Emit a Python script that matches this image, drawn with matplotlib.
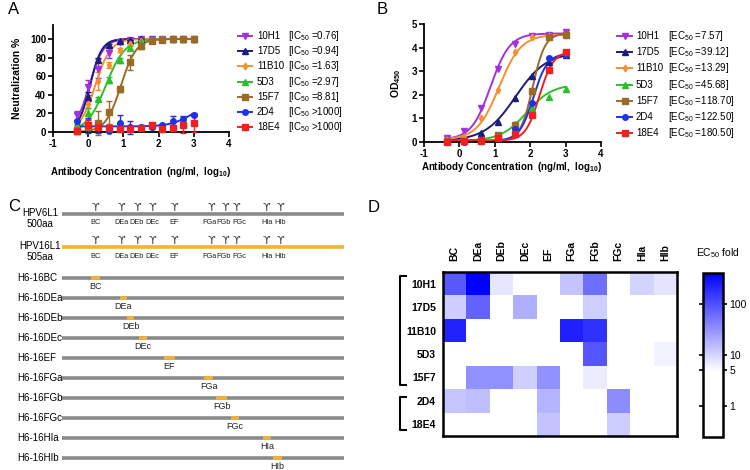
import numpy as np
import matplotlib
matplotlib.use('Agg')
import matplotlib.pyplot as plt
from matplotlib.colors import LinearSegmentedColormap, LogNorm
from matplotlib.lines import Line2D
from matplotlib.ticker import NullLocator, FixedLocator

plt.rcParams['font.family'] = ['Liberation Sans', 'DejaVu Sans']
plt.rcParams['mathtext.fontset'] = 'custom'
plt.rcParams['mathtext.rm'] = 'Liberation Sans'
plt.rcParams['mathtext.it'] = 'Liberation Sans:italic'
plt.rcParams['mathtext.bf'] = 'Liberation Sans:bold'
plt.rcParams['axes.unicode_minus'] = False

W, H = 750, 470

# ---------------- data ----------------
antibodies = ['10H1', '17D5', '11B10', '5D3', '15F7', '2D4', '18E4']
colors = ['#A232E0', '#1C1C7A', '#F5902E', '#2DBE2D', '#9C6A28', '#1E32E6', '#EE2020']
markers = ['v', '^', 'd', '^', 's', 'o', 's']

# Panel A: neutralization (%), x = log10 ng/ml
a_x = [-0.31, -0.01, 0.29, 0.59, 0.89, 1.19, 1.49, 1.80, 2.10, 2.40, 2.70, 3.00]
a_10H1 = [18, 48, 68, 85, 97, 99, 100, 100, 100, 100, 100, 100]
a_17D5 = [8, 38, 77, 93, 98, 99, 100, 100, 100, 100, 100, 100]
a_11B10 = [5, 30, 55, 72, 88, 95, 98, 99, 100, 100, 100, 100]
a_5D3 = [5, 20, 36, 56, 77, 90, 97, 99, 100, 100, 100, 100]
a_15F7 = [1, 5, 10, 21, 46, 75, 92, 98, 99, 100, 100, 100]
a_2D4 = [12, 7, 5, 1, 10, 5, 5, 5, 7, 12, 14, 18]
a_18E4 = [1, 8, 5, 4, 3, 3, 4, 8, 3, 4, 7, 10]
a_err_10H1 = [5, 8, 10, 5, 2, 1, 1, 0, 0, 0, 0, 0]
a_err_17D5 = [5, 5, 2, 2, 1, 0, 0, 0, 0, 0, 0, 0]
a_err_11B10 = [3, 4, 10, 3, 2, 1, 1, 0, 0, 0, 0, 0]
a_err_5D3 = [4, 6, 2, 3, 3, 2, 1, 0, 0, 0, 0, 0]
a_err_15F7 = [2, 3, 13, 12, 3, 8, 3, 1, 0, 0, 0, 0]
a_err_2D4 = [8, 8, 6, 0, 8, 7, 3, 2, 1, 5, 3, 1]
a_err_18E4 = [3, 5, 3, 2, 3, 2, 2, 2, 2, 3, 8, 10]
a_y = [a_10H1, a_17D5, a_11B10, a_5D3, a_15F7, a_2D4, a_18E4]
a_err = [a_err_10H1, a_err_17D5, a_err_11B10, a_err_5D3, a_err_15F7, a_err_2D4, a_err_18E4]
# fitted 4PL curves: bottom, top, logIC50, hill  (None = no fit drawn)
a_fit = [(0, 100, 0.03, 2.2), (0, 100, 0.05, 2.6), (0, 100, 0.20, 2.0),
         (0, 100, 0.50, 1.6), (0, 100, 0.93, 2.0), (6, 30, 2.9, 1.5), None]
ic50_text = ['=0.76', '=0.94', '=1.63', '=2.97', '=8.81', '>1000', '>1000']

# Panel B: ELISA OD450
b_x = [-0.34, 0.14, 0.61, 1.09, 1.57, 2.05, 2.52, 3.00]
b_10H1 = [0.17, 0.45, 1.45, 3.10, 4.15, 4.50, 4.55, 4.65]
b_17D5 = [0.05, 0.15, 0.40, 0.85, 1.85, 2.80, 3.40, 3.70]
b_11B10 = [0.10, 0.20, 1.00, 2.20, 3.80, 4.45, 4.50, 4.55]
b_5D3 = [0.05, 0.05, 0.10, 0.25, 0.75, 1.45, 1.90, 2.25]
b_15F7 = [0.05, 0.05, 0.10, 0.30, 0.70, 2.15, 4.45, 4.55]
b_2D4 = [0.02, 0.02, 0.08, 0.18, 0.55, 1.65, 3.55, 3.68]
b_18E4 = [0.02, 0.03, 0.05, 0.15, 0.35, 1.15, 3.05, 3.80]
b_y = [b_10H1, b_17D5, b_11B10, b_5D3, b_15F7, b_2D4, b_18E4]
b_fit = [(0.10, 4.60, 0.88, 1.6), (0.05, 3.80, 1.59, 1.0), (0.10, 4.55, 1.12, 1.4),
         (0.05, 2.45, 1.90, 1.2), (0.05, 4.60, 2.07, 2.5), (0.05, 3.75, 2.09, 2.2),
         (0.05, 3.85, 2.26, 2.2)]
ec50_text = ['=7.57', '=39.12', '=13.29', '=45.68', '=118.70', '=122.50', '=180.50']

# Panel C: chimeric constructs
loops = ['BC', 'DEa', 'DEb', 'DEc', 'EF', 'FGa', 'FGb', 'FGc', 'HIa', 'HIb']
loop_mark_aa = [59, 105, 133, 160, 199, 264, 289, 310, 363, 387]
swap_start_aa = [51, 103, 115, 137, 181, 252, 273, 300, 356, 374]
swap_end_aa = [67, 115, 128, 151, 200, 268, 293, 314, 371, 390]
full_names = ['HPV6L1', 'HPV16L1']
full_lengths = ['500aa', '505aa']
construct_names = ['H6-16' + l for l in loops]
label_nudge = [0, 0, 0, 0, 0, -3, -2, 4, 0, 0]   # text offsets only (layout)

# Panel D: EC50 fold heatmap (rows = antibodies, cols = loops)
d_10H1 = [85, 400, 7.4, 1, 1, 13.6, 59, 1, 10, 7.5]
d_17D5 = [11.5, 72, 1, 19, 1, 1, 11, 1, 1, 1]
d_11B10 = [213, 1, 1, 1, 1, 230, 165, 1, 1, 1]
d_5D3 = [1, 1, 1, 1, 1, 1, 91, 1, 1, 6]
d_15F7 = [1, 32, 32, 11, 32, 1, 6.5, 1, 1, 1]
d_2D4 = [12.6, 14.5, 1, 1, 17, 1, 1, 35, 1, 1]
d_18E4 = [1, 1, 1, 1, 13.6, 1, 1, 11.5, 1, 1]
d_vals = [d_10H1, d_17D5, d_11B10, d_5D3, d_15F7, d_2D4, d_18E4]
cbar_ticks = [1, 5, 10, 100]


def fourpl(x, p):
    b, t, c, h = p
    return b + (t - b) / (1 + 10 ** (h * (c - x)))


def fx(px):
    return px / W


def fy(py):
    return 1 - py / H


fig = plt.figure(figsize=(7.5, 4.7), dpi=100)


def style_xy(ax):
    for s in ['top', 'right']:
        ax.spines[s].set_visible(False)
    for s in ['left', 'bottom']:
        ax.spines[s].set_linewidth(1.3)
    ax.tick_params(width=1.2, length=3.5, labelsize=7, pad=1.5)
    for lab in ax.get_xticklabels() + ax.get_yticklabels():
        lab.set_fontweight('bold')


def draw_legend(x_h0, x_h1, x_name, x_br, y0, dy, brackets, stat):
    for i, name in enumerate(antibodies):
        y = fy(y0 + dy * i)
        fig.add_artist(Line2D([fx(x_h0), fx(x_h1)], [y, y], color=colors[i], lw=1.4))
        fig.add_artist(Line2D([fx((x_h0 + x_h1) / 2)], [y], color=colors[i], marker=markers[i],
                              ms=4 if markers[i] != 'd' else 3.5, lw=0))
        fig.text(fx(x_name), y, name, fontsize=7, va='center')
        fig.text(fx(x_br), y, '[%s$_{50}$ %s]' % (stat, brackets[i]), fontsize=7, va='center')


# ---------------- Panel A ----------------
axA = fig.add_axes([fx(53), fy(132), fx(229 - 53), (132 - 25) / H])
xc = np.linspace(min(a_x), max(a_x), 200)
for i in range(len(antibodies)):
    if a_fit[i] is not None:
        axA.plot(xc, fourpl(xc, a_fit[i]), color=colors[i], lw=1.4, zorder=2)
    axA.errorbar(a_x, a_y[i], yerr=a_err[i], fmt=markers[i], color=colors[i],
                 ms=4 if markers[i] != 'd' else 3.5, elinewidth=1, capsize=2, capthick=1,
                 zorder=3, clip_on=False)
axA.set_xlim(-1, 4)
axA.set_ylim(0, 115)
axA.set_xticks([-1, 0, 1, 2, 3, 4])
axA.set_yticks([0, 20, 40, 60, 80, 100])
style_xy(axA)
axA.set_ylabel('Neutralization %', fontsize=7.5, fontweight='bold', labelpad=6)
fig.text(fx(141), fy(172), 'Antibody Concentration  (ng/ml,  log$_{\\mathbf{10}}$)',
         fontsize=7, fontweight='bold', ha='center', va='center')
draw_legend(238, 252, 257, 288, 36, 15.2, ic50_text, 'IC')
fig.text(fx(8), fy(9), 'A', fontsize=12, va='center', ha='left')

# ---------------- Panel B ----------------
axB = fig.add_axes([fx(424), fy(142), fx(601 - 424), (142 - 24) / H])
xc = np.linspace(min(b_x), max(b_x), 200)
for i in range(len(antibodies)):
    axB.plot(xc, fourpl(xc, b_fit[i]), color=colors[i], lw=1.4, zorder=2)
    axB.plot(b_x, b_y[i], markers[i], color=colors[i], ms=4 if markers[i] != 'd' else 3.5,
             zorder=3, clip_on=False)
axB.set_xlim(-1, 4)
axB.set_ylim(0, 5)
axB.set_xticks([-1, 0, 1, 2, 3, 4])
axB.set_yticks([0, 1, 2, 3, 4, 5])
style_xy(axB)
axB.set_ylabel('OD$_{\\mathbf{450}}$', fontsize=7.5, fontweight='bold', labelpad=6)
fig.text(fx(512), fy(167), 'Antibody Concentration  (ng/ml,  log$_{\\mathbf{10}}$)',
         fontsize=7, fontweight='bold', ha='center', va='center')
draw_legend(617, 632, 636, 668, 36, 16.2, ec50_text, 'EC')
fig.text(fx(377), fy(9), 'B', fontsize=12, va='center', ha='left')

# ---------------- Panel C ----------------
axC = fig.add_axes([fx(62), 0, fx(282), 1 - 190 / H])
axC.set_xlim(0, 500)
axC.set_ylim(470, 190)
axC.axis('off')
gray = '#8A8A8A'
gold = '#F2B233'
full_rows = [214, 247]
full_cols = [gray, gold]
for r, (yy, col) in enumerate(zip(full_rows, full_cols)):
    axC.plot([0, 500], [yy, yy], color=col, lw=2.6, solid_capstyle='butt')
    for aa, lab, nd in zip(loop_mark_aa, loops, label_nudge):
        axC.text(aa, yy - 1, '\u03d2', fontsize=8, ha='center', va='bottom',
                 family='DejaVu Sans', color='#444444')
        axC.text(aa + nd, yy + 9, lab, fontsize=5.3, ha='center', va='center', color='#222222')
    axC.text(-39, yy - 1, full_names[r], fontsize=7, ha='center', va='center', clip_on=False)
    axC.text(-39, yy + 10, full_lengths[r], fontsize=7, ha='center', va='center', clip_on=False)
for k, name in enumerate(construct_names):
    yy = 278 + 20 * k
    axC.plot([0, 500], [yy, yy], color=gray, lw=2.6, solid_capstyle='butt')
    axC.plot([swap_start_aa[k], swap_end_aa[k]], [yy, yy], color=gold, lw=2.6,
             solid_capstyle='butt')
    axC.text((swap_start_aa[k] + swap_end_aa[k]) / 2, yy + 8.5, loops[k], fontsize=6.5,
             ha='center', va='center', color='#222222')
    axC.text(-80, yy, name, fontsize=7, ha='left', va='center', clip_on=False)
fig.text(fx(8), fy(206), 'C', fontsize=12, va='center', ha='left')

# ---------------- Panel D ----------------
cmap = LinearSegmentedColormap.from_list('wb', [(0, 'white'), (0.4, 'white'), (1, '#0000FF')])
norm = LogNorm(vmin=0.25, vmax=400)
axD = fig.add_axes([fx(443), fy(436), fx(677 - 443), (436 - 272) / H])
im = axD.imshow(np.array(d_vals), cmap=cmap, norm=norm, aspect='auto')
axD.xaxis.tick_top()
axD.set_xticks(range(len(loops)))
axD.set_xticklabels(loops, rotation=90, fontsize=7.5, fontweight='bold')
axD.set_yticks(range(len(antibodies)))
axD.set_yticklabels(antibodies, fontsize=7.5, fontweight='bold')
axD.tick_params(length=0, pad=5)
axD.tick_params(axis='x', pad=8)
for s in axD.spines.values():
    s.set_linewidth(1.8)
# brackets
tr = axD.get_yaxis_transform()
for (y0b, y1b) in [(-0.33, 4.33), (4.82, 6.25)]:
    axD.plot([-0.16, -0.184, -0.184, -0.16], [y0b, y0b, y1b, y1b], color='black', lw=1.5,
             transform=tr, clip_on=False)
fig.text(fx(368), fy(207), 'D', fontsize=12, va='center', ha='left')

cax = fig.add_axes([fx(703), fy(437), fx(20), (437 - 273) / H])
cb = fig.colorbar(im, cax=cax)
cax.yaxis.set_minor_locator(NullLocator())
cax.yaxis.set_major_locator(FixedLocator(cbar_ticks))
cax.set_yticklabels([str(t) for t in cbar_ticks])
cax.tick_params(axis='y', left=True, right=True, direction='out', length=3, width=1.2,
                labelsize=7.5, pad=1.5)
cb.outline.set_linewidth(1.8)
fig.text(fx(718), fy(253), 'EC$_{50}$ fold', fontsize=7.5, ha='center', va='center')

fig.savefig('out.png', dpi=100)
